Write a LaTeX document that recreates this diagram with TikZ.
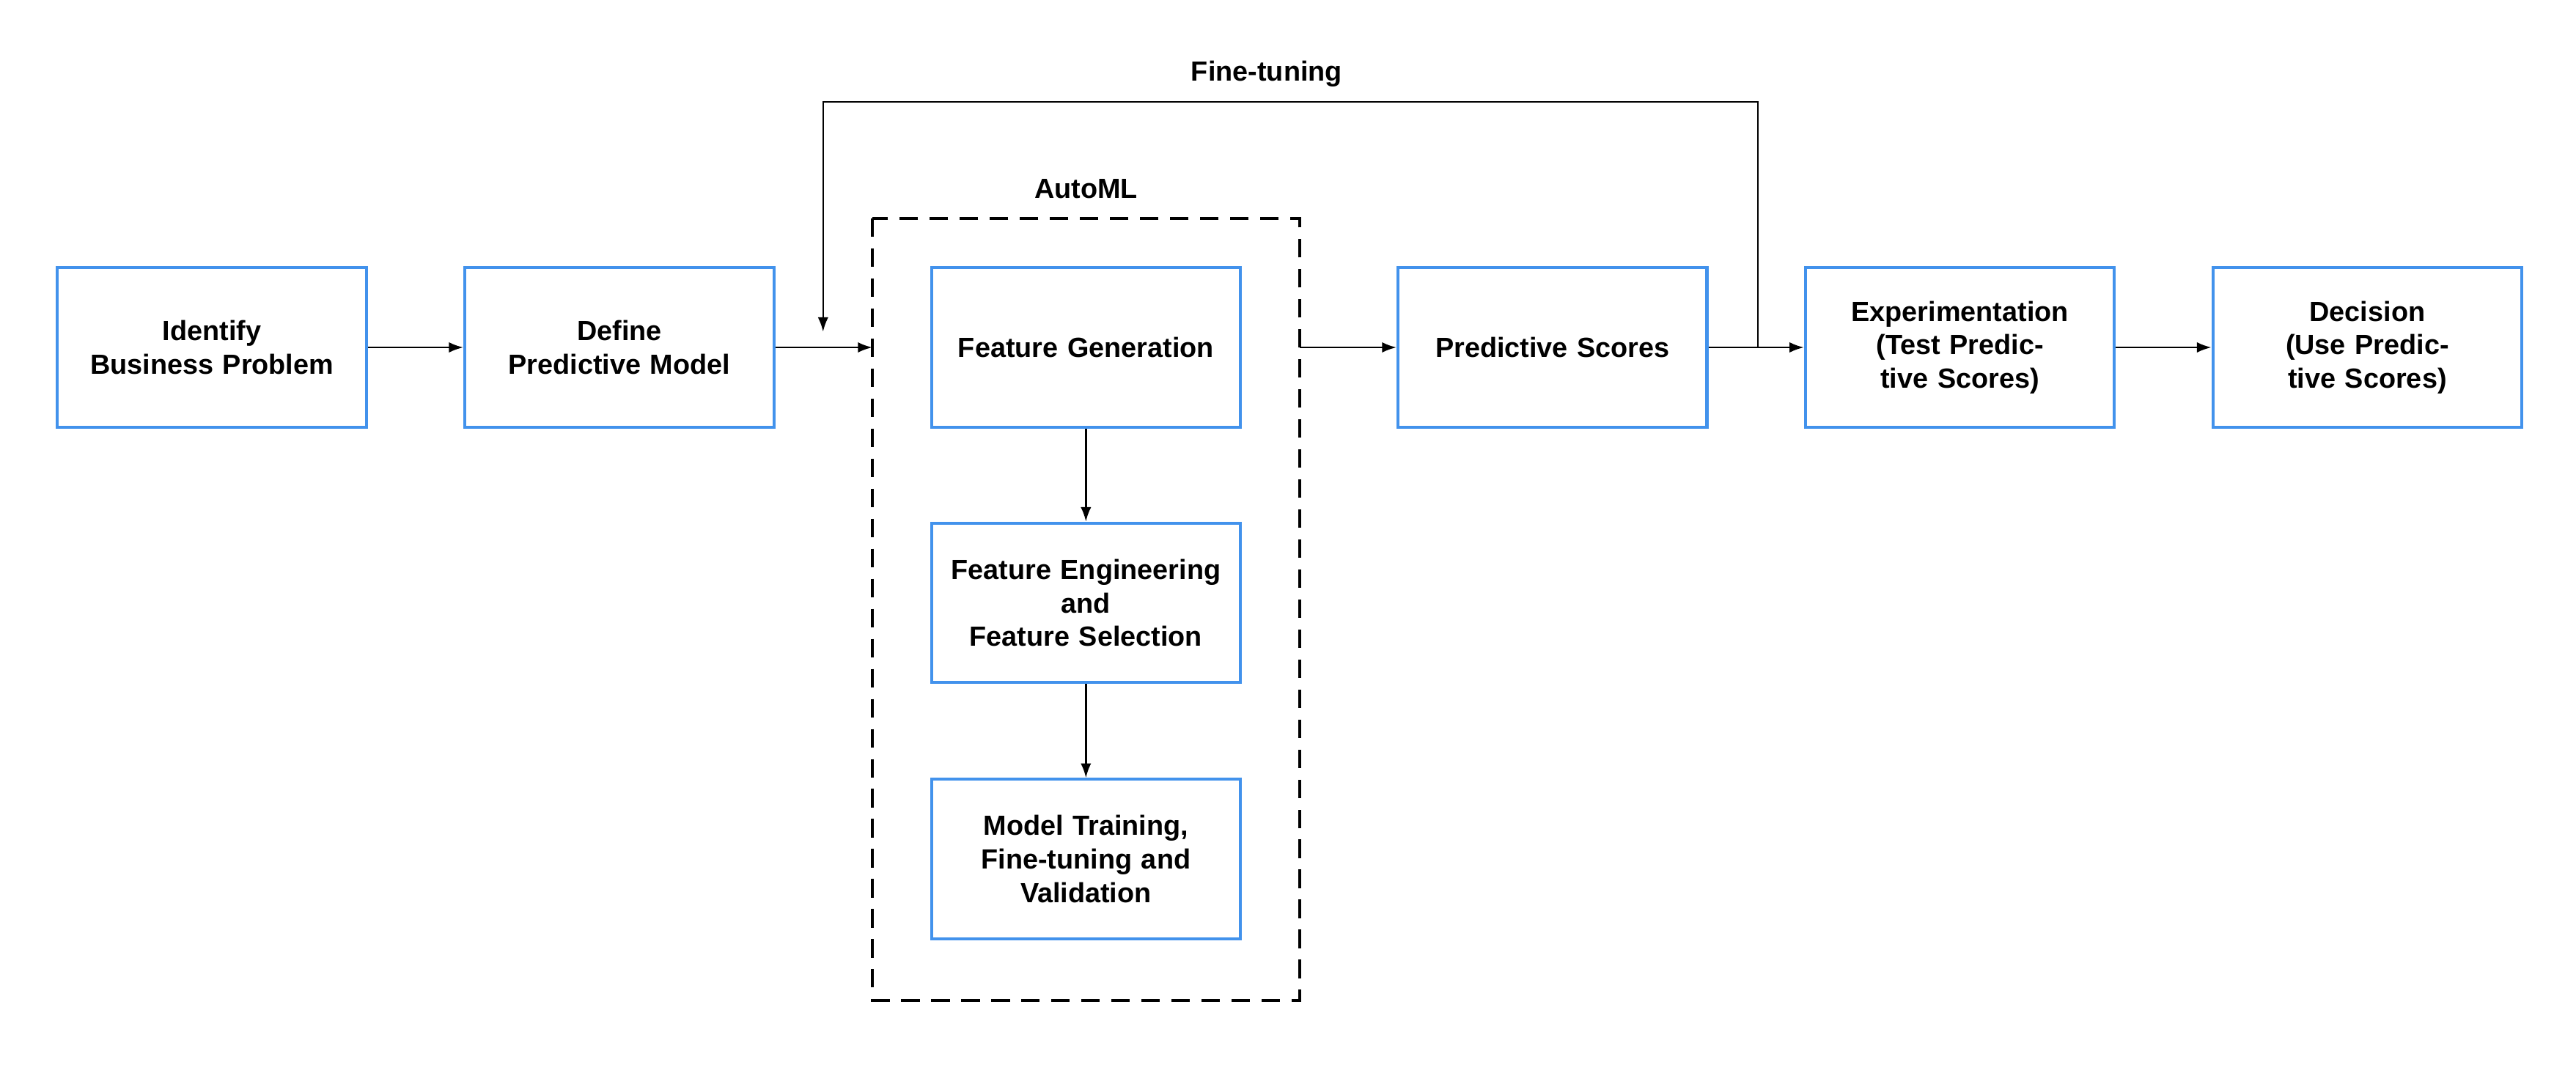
\documentclass[tikz,border=0pt]{standalone}
\usepackage{fontspec}
\setmainfont{Liberation Sans}
\usetikzlibrary{arrows.meta}
\definecolor{boxblue}{RGB}{66,146,236}
\begin{document}
\begin{tikzpicture}[x=0.025cm,y=-0.025cm,font=\fontsize{12}{14.5}\selectfont\bfseries,
  stage/.style={draw=boxblue,line width=1.3pt,text width=4.5cm,minimum width=4.7cm,minimum height=2.425cm,align=center,inner sep=1pt},
  flow/.style={-{Latex[length=2.2mm,width=1.6mm]},line width=0.8pt}]

\useasboundingbox (0,0) rectangle (1568,653);

% main row
\node[stage] (identify) at (129,211.5) {Identify\\Business Problem};
\node[stage] (define) at (377,211.5) {Define\\Predictive Model};
\node[stage] (scores) at (945,211.5) {Predictive Scores};
\node[stage] (experiment) at (1193,211.5) {Experimentation\\(Test Predictive Scores)};
\node[stage] (decision) at (1441,211.5) {Decision\\(Use Predictive Scores)};

% AutoML block
\draw[dashed,line width=1.3pt,dash pattern=on 8pt off 5pt] (531,133) rectangle (791,609);
\coordinate (automlin) at (531,211.5);
\coordinate (automlout) at (791,211.5);
\node (automl) at (661,115) {AutoML};
\node[stage] (generation) at (661,211.5) {Feature Generation};
\node[stage] (engineering) at (661,367) {Feature Engineering\\and\\Feature Selection};
\node[stage] (training) at (661,523) {Model Training,\\Fine-tuning and\\Validation};

\draw[flow] (identify) -- (define);
\draw[flow] (define) -- (automlin);
\draw[flow] (automlout) -- (scores);
\draw[flow] (scores) -- (experiment);
\draw[flow] (experiment) -- (decision);
\draw[flow] (generation) -- (engineering);
\draw[flow] (engineering) -- (training);

% feedback loop
\coordinate (loopstart) at (1070,211.5);
\coordinate (loopend) at (501,202);
\draw[flow] (loopstart) |- (1070,62) -| (loopend);
\node (finetune) at (771,45) {Fine-tuning};

\end{tikzpicture}
\end{document}
